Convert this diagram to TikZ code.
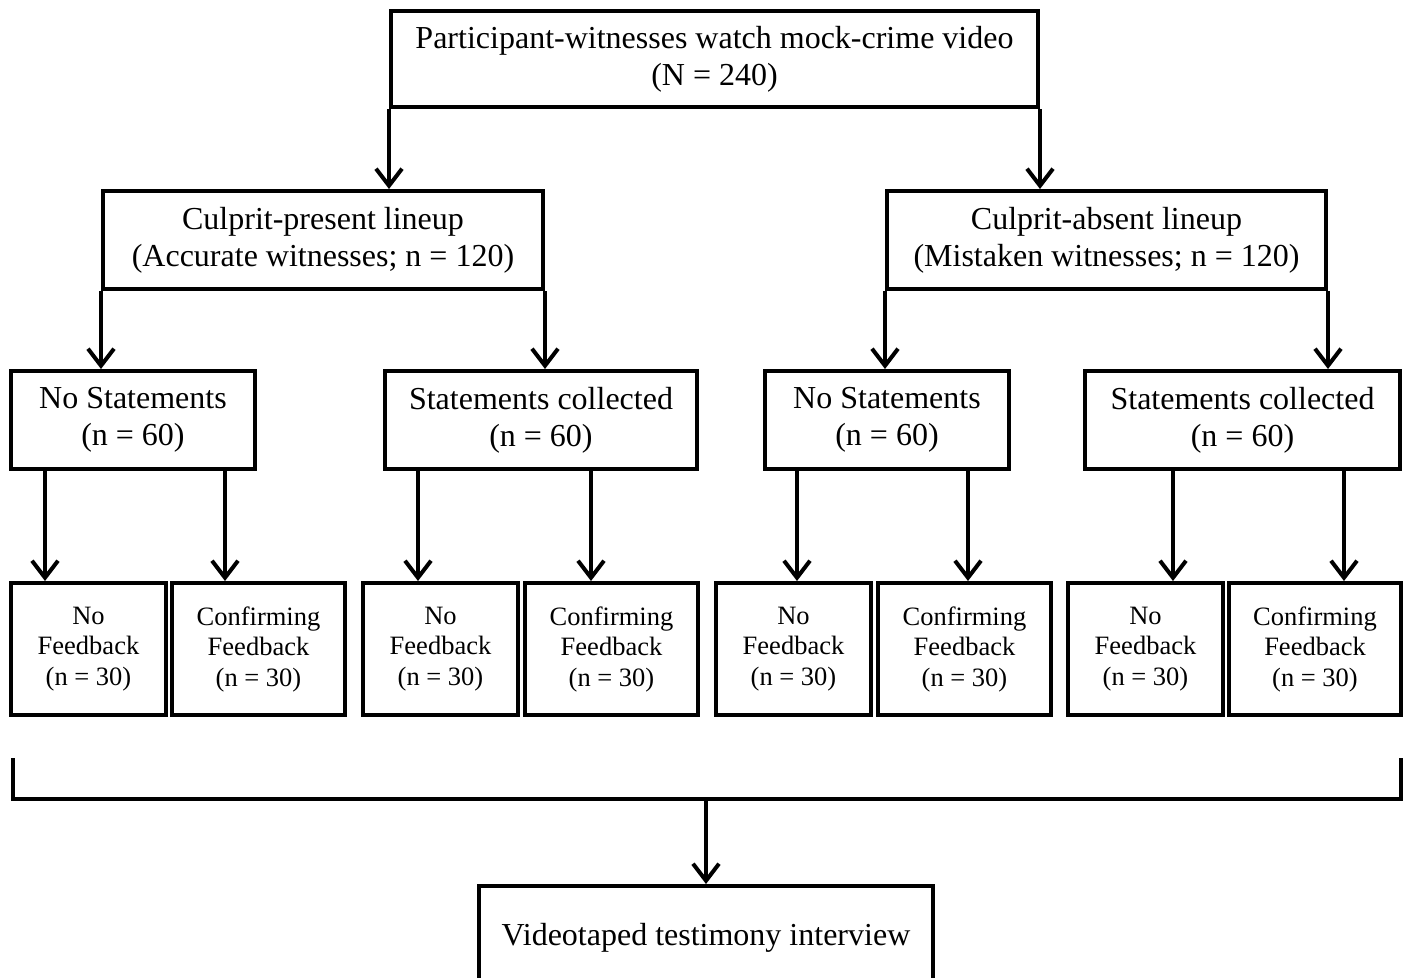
\documentclass[tikz,border=0pt]{standalone}
\usepackage{fontspec}
\setmainfont{Liberation Serif}
\usetikzlibrary{arrows.meta}
\begin{document}
\begin{tikzpicture}[x=1pt,y=-1pt,
  box/.style={draw,line width=4pt,inner sep=0pt,align=center,
    font=\fontsize{32}{37}\selectfont},
  smallbox/.style={box,font=\fontsize{26.5}{30.5}\selectfont},
  arr/.style={line width=4pt,-{Straight Barb[length=17pt,width=26pt]}},
  link/.style={line width=4pt}]
\useasboundingbox (0,0) rectangle (1407,977);
\clip (0,0) rectangle (1407,977);
% level 0
\node[box,minimum width=647pt,minimum height=96pt] (top) at (714.5,59)
  {Participant-witnesses watch mock-crime video\\(N = 240)};
% level 1
\node[box,minimum width=440pt,minimum height=98pt] (cp) at (323,240)
  {Culprit-present lineup\\(Accurate witnesses; n = 120)};
\node[box,minimum width=439pt,minimum height=98pt] (ca) at (1106.5,240)
  {Culprit-absent lineup\\(Mistaken witnesses; n = 120)};
% level 2
\node[box,minimum width=244pt,minimum height=98pt] (nsL) at (133,420)
  {No Statements\\(n = 60)};
\node[box,minimum width=312pt,minimum height=98pt] (scL) at (541,420)
  {Statements collected\\(n = 60)};
\node[box,minimum width=244pt,minimum height=98pt] (nsR) at (887,420)
  {No Statements\\(n = 60)};
\node[box,minimum width=315pt,minimum height=98pt] (scR) at (1242.5,420)
  {Statements collected\\(n = 60)};
% level 3
\node[smallbox,minimum width=155pt,minimum height=132pt] (b1) at (88.5,649)
  {No\\Feedback\\(n = 30)};
\node[smallbox,minimum width=173pt,minimum height=132pt] (b2) at (258.5,649)
  {Confirming\\Feedback\\(n = 30)};
\node[smallbox,minimum width=155pt,minimum height=132pt] (b3) at (440.5,649)
  {No\\Feedback\\(n = 30)};
\node[smallbox,minimum width=173pt,minimum height=132pt] (b4) at (611.5,649)
  {Confirming\\Feedback\\(n = 30)};
\node[smallbox,minimum width=155pt,minimum height=132pt] (b5) at (793.5,649)
  {No\\Feedback\\(n = 30)};
\node[smallbox,minimum width=173pt,minimum height=132pt] (b6) at (964.5,649)
  {Confirming\\Feedback\\(n = 30)};
\node[smallbox,minimum width=155pt,minimum height=132pt] (b7) at (1145.5,649)
  {No\\Feedback\\(n = 30)};
\node[smallbox,minimum width=172pt,minimum height=132pt] (b8) at (1315,649)
  {Confirming\\Feedback\\(n = 30)};
% final
\node[box,minimum width=454pt,minimum height=104pt] (final) at (706,938)
  {Videotaped testimony interview};
% arrows level 0 -> 1
\draw[arr] (top.south west) -- (top.south west |- cp.north);
\draw[arr] (top.south east) -- (top.south east |- ca.north);
% level 1 -> 2
\draw[arr] (cp.south west) -- (cp.south west |- nsL.north);
\draw[arr] (cp.south east) -- (cp.south east |- scL.north);
\draw[arr] (ca.south west) -- (ca.south west |- nsR.north);
\draw[arr] (ca.south east) -- (ca.south east |- scR.north);
% level 2 -> 3
\coordinate (x1) at (45,0);
\coordinate (x2) at (225,0);
\coordinate (x3) at (418,0);
\coordinate (x4) at (591,0);
\coordinate (x5) at (797,0);
\coordinate (x6) at (968,0);
\coordinate (x7) at (1173,0);
\coordinate (x8) at (1344,0);
\draw[arr] (nsL.south -| x1) -- (b1.north -| x1);
\draw[arr] (nsL.south -| x2) -- (b2.north -| x2);
\draw[arr] (scL.south -| x3) -- (b3.north -| x3);
\draw[arr] (scL.south -| x4) -- (b4.north -| x4);
\draw[arr] (nsR.south -| x5) -- (b5.north -| x5);
\draw[arr] (nsR.south -| x6) -- (b6.north -| x6);
\draw[arr] (scR.south -| x7) -- (b7.north -| x7);
\draw[arr] (scR.south -| x8) -- (b8.north -| x8);
% bracket
\coordinate (bl) at (13,758);
\coordinate (br) at (1401,758);
\coordinate (bm) at (706,799);
\draw[link,line join=miter] (bl) -- (bl |- bm) -- (br |- bm) -- (br);
\draw[arr] (bm) -- (final.north);
\end{tikzpicture}
\end{document}
